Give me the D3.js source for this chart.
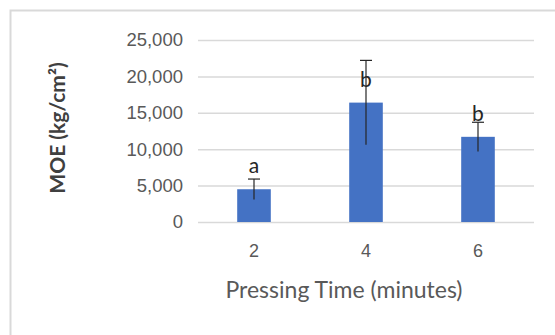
<!DOCTYPE html>
<html>
<head>
<meta charset="utf-8">
<script src="https://cdn.jsdelivr.net/npm/d3@7"></script>
<style>
  body { margin: 0; background: #fff; }
  svg { display: block; font-family: Lato, "Open Sans", sans-serif; }
</style>
</head>
<body>
<svg id="svg" width="555" height="335"></svg>
<script>
// chart values
const times = ["2", "4", "6"];
const moe = [4500, 16400, 11700];
const moeErr = [1400, 5800, 2000];
const groups = ["a", "b", "b"];
const yTicks = [0, 5000, 10000, 15000, 20000, 25000];

const svg = d3.select("#svg");
const plotLeft = 198, plotRight = 534, plotTop = 40, plotBottom = 222;

// chart border (only top and left visible in the crop)
svg.append("path")
  .attr("d", "M10.5,335 L10.5,10.5 L555,10.5")
  .attr("fill", "none")
  .attr("stroke", "#d9d9d9")
  .attr("stroke-width", 2);

const x = d3.scaleBand()
  .domain(times)
  .range([plotLeft, plotRight])
  .paddingInner(0.7)
  .paddingOuter(0.35);

const y = d3.scaleLinear().domain([0, 25000]).range([plotBottom, plotTop]);

// gridlines + y labels
const yAxis = svg.append("g")
  .attr("transform", `translate(${plotLeft},0)`)
  .call(d3.axisLeft(y)
    .tickValues(yTicks)
    .tickSize(-(plotRight - plotLeft))
    .tickPadding(15)
    .tickFormat(d3.format(",")));
yAxis.select(".domain").remove();
yAxis.selectAll("line").attr("stroke", "#d9d9d9").attr("stroke-width", 1.5);
yAxis.selectAll("text")
  .attr("fill", "#595959")
  .style("font-size", "18.5px");

// x labels
const xAxis = svg.append("g")
  .attr("transform", `translate(0,${plotBottom})`)
  .call(d3.axisBottom(x).tickSize(0).tickPadding(22));
xAxis.select(".domain").remove();
xAxis.selectAll("text")
  .attr("fill", "#595959")
  .style("font-size", "18px");

// bars
svg.selectAll("rect.bar")
  .data(moe)
  .enter()
  .append("rect")
  .attr("class", "bar")
  .attr("x", (d, i) => x(times[i]))
  .attr("y", (d) => y(d))
  .attr("width", x.bandwidth())
  .attr("height", (d) => y(0) - y(d))
  .attr("fill", "#4472c4");

// error bars
const err = svg.append("g").attr("stroke", "#262626").attr("stroke-width", 1.2);
moe.forEach((d, i) => {
  const cx = x(times[i]) + x.bandwidth() / 2;
  err.append("line")
    .attr("x1", cx).attr("x2", cx)
    .attr("y1", y(d - moeErr[i])).attr("y2", y(d + moeErr[i]));
  err.append("line")
    .attr("x1", cx - 6).attr("x2", cx + 6)
    .attr("y1", y(d + moeErr[i])).attr("y2", y(d + moeErr[i]));
});

// group letters
svg.selectAll("text.grp")
  .data(groups)
  .enter()
  .append("text")
  .attr("class", "grp")
  .attr("x", (d, i) => x(times[i]) + x.bandwidth() / 2)
  .attr("y", (d, i) => y(moe[i]) - 16)
  .attr("text-anchor", "middle")
  .attr("fill", "#262626")
  .style("font-size", "21px")
  .text((d) => d);

// axis titles
svg.append("text")
  .attr("x", (plotLeft + plotRight) / 2 - 22)
  .attr("y", 298)
  .attr("text-anchor", "middle")
  .attr("fill", "#595959")
  .style("font-size", "23px")
  .text("Pressing Time (minutes)");

svg.append("text")
  .attr("transform", "translate(65,128) rotate(-90)")
  .attr("text-anchor", "middle")
  .attr("fill", "#404040")
  .style("font-size", "21px")
  .style("font-weight", "bold")
  .text("MOE (kg/cm²)");
</script>
</body>
</html>
